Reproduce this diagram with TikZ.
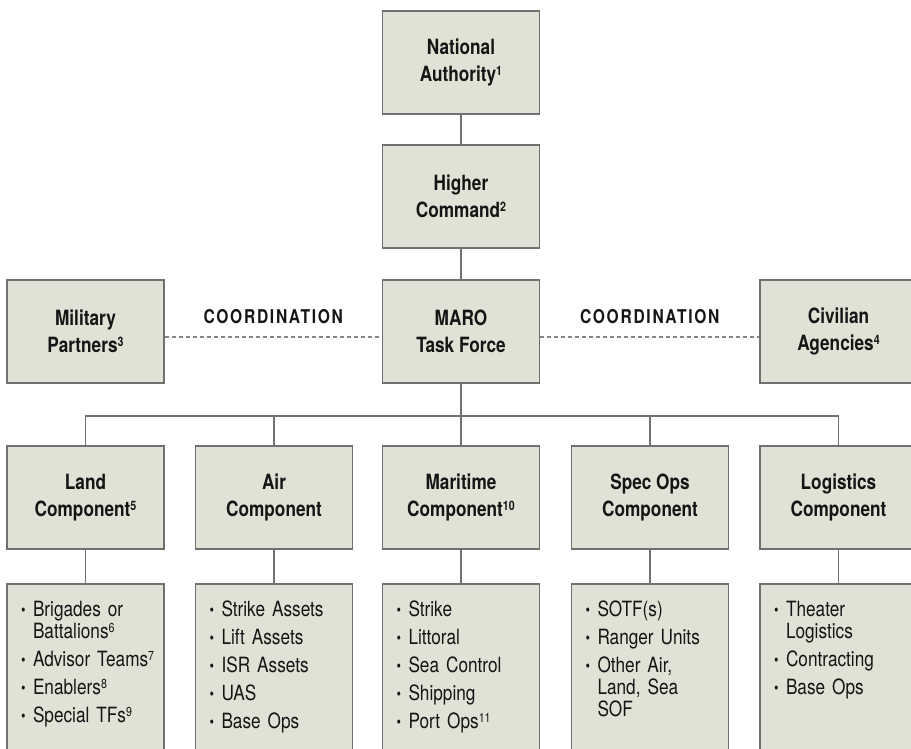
\documentclass[tikz,border=0pt]{standalone}
\usepackage{fontspec}
\setmainfont{TeX Gyre Heros}[FakeStretch=0.82]
\usepackage{graphicx}
\usetikzlibrary{calc}
\definecolor{orgfill}{HTML}{E1E1D5}
\definecolor{orgline}{HTML}{707071}
\definecolor{orgdash}{HTML}{858585}
\definecolor{orgink}{HTML}{151515}
\newcommand{\fn}[1]{\raisebox{6pt}{\fontsize{13}{13}\selectfont#1}}
\newcommand{\lstdot}{\raisebox{1pt}{\scalebox{0.75}{\textbullet}}}
\newcommand{\lstitem}[1]{\hangindent=12pt\hangafter=1\noindent
  \makebox[12pt][l]{\lstdot}#1\par}
\tikzset{
  every picture/.style={text=orgink},
  unitbox/.style={rectangle,draw=orgline,fill=orgfill,line width=1.8pt,
    minimum width=157pt,minimum height=103pt,inner sep=0pt,align=center,
    font=\fontsize{21}{27}\selectfont\bfseries},
  listbox/.style={rectangle,draw=orgline,fill=orgfill,line width=1.8pt,
    anchor=north,inner xsep=14pt,inner ysep=0pt,text width=129pt,
    text height=33pt,text depth=210pt,
    font=\fontsize{21}{22}\selectfont\setlength{\parskip}{6pt}},
  link/.style={draw=orgline,line width=1.8pt},
  coordlink/.style={draw=orgdash,line width=1.5pt,dash pattern=on 4pt off 3pt},
  coordlabel/.style={inner sep=0pt,
    font=\fontsize{19}{19}\selectfont\bfseries\addfontfeature{LetterSpace=9}},
}

\begin{document}
\begin{tikzpicture}[x=1pt,y=-1pt]
  \path[use as bounding box] (0,0) rectangle (911,749);
  % command chain
  \node[unitbox] (nat) at (461,62.5) {National\\Authority\fn{1}};
  \node[unitbox] (hc) at (461,196.5) {Higher\\Command\fn{2}};
  \node[unitbox] (maro) at (461,331.5) {MARO\\Task Force};
  \node[unitbox] (mil) at (85.5,331.5) {Military\\Partners\fn{3}};
  \node[unitbox] (civ) at (838.5,331.5) {Civilian\\Agencies\fn{4}};
  \draw[link] (nat.south) -- (hc.north);
  \draw[link] (hc.south) -- (maro.north);
  \draw[coordlink] ([yshift=-5.5pt]mil.east) -- node[coordlabel,above=13pt]{COORDINATION}
    ([yshift=-5.5pt]maro.west);
  \draw[coordlink] ([yshift=-5.5pt]maro.east) -- node[coordlabel,above=13pt]{COORDINATION}
    ([yshift=-5.5pt]civ.west);
  % components
  \node[unitbox] (land) at (85.5,497.5) {Land\\Component\fn{5}};
  \node[unitbox] (air) at (274,497.5) {Air\\Component};
  \node[unitbox] (mari) at (461,497.5) {Maritime\\Component\fn{10}};
  \node[unitbox] (spec) at (650,497.5) {Spec Ops\\Component};
  \node[unitbox] (logi) at (838.5,497.5) {Logistics\\Component};
  \coordinate (bar) at (461,416);
  \draw[link] (maro.south) -- (bar);
  \draw[link] (land.north) -- (land.north |- bar) -- (logi.north |- bar) -- (logi.north);
  \foreach \c in {air,mari,spec}
    \draw[link] (\c.north |- bar) -- (\c.north);
  % assets under each component
  \node[listbox] (landlist) at (85.5,583) {%
    \lstitem{Brigades~or\newline Battalions\fn{6}}
    \lstitem{Advisor~Teams\fn{7}}
    \lstitem{Enablers\fn{8}}
    \lstitem{Special~TFs\fn{9}}};
  \node[listbox] (airlist) at (274,583) {%
    \lstitem{Strike~Assets}
    \lstitem{Lift~Assets}
    \lstitem{ISR~Assets}
    \lstitem{UAS}
    \lstitem{Base~Ops}};
  \node[listbox] (marilist) at (461,583) {%
    \lstitem{Strike}
    \lstitem{Littoral}
    \lstitem{Sea~Control}
    \lstitem{Shipping}
    \lstitem{Port~Ops\fn{11}}};
  \node[listbox] (speclist) at (650,583) {%
    \lstitem{SOTF(s)}
    \lstitem{Ranger~Units}
    \lstitem{Other~Air,\newline Land,~Sea\newline SOF}};
  \node[listbox] (logilist) at (838.5,583) {%
    \lstitem{Theater\newline Logistics}
    \lstitem{Contracting}
    \lstitem{Base~Ops}};
  \foreach \c in {land,air,mari,spec,logi}
    \draw[link] (\c.south) -- (\c list.north);
\end{tikzpicture}
\end{document}
